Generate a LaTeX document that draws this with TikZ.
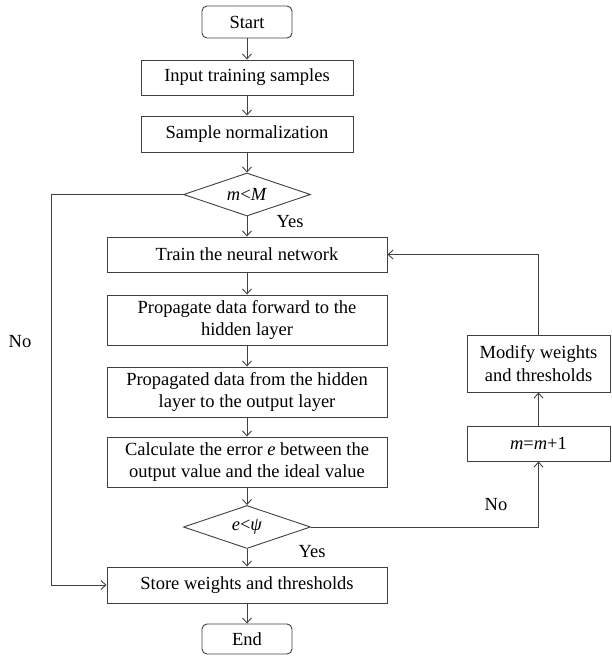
\documentclass[tikz,border=0pt]{standalone}
\usepackage{fontspec}
\setmainfont{Liberation Serif}
\usetikzlibrary{shapes.geometric,arrows.meta,calc}
\tikzset{
  every node/.style={font=\fontsize{18.5}{22.5}\selectfont, text=black},
  box/.style={draw=black!75, line width=0.9pt, rectangle, inner sep=0pt, align=center},
  term/.style={box, rounded corners=5pt, minimum width=90pt},
  dia/.style={draw=black!75, line width=0.9pt, diamond, inner sep=0pt, minimum width=127pt, minimum height=43pt, aspect=2.95},
  conn/.style={draw=black!75, line width=0.9pt, -{Straight Barb[length=5pt,width=9pt]}},
  lbl/.style={inner sep=0pt}
}
\begin{document}
\begin{tikzpicture}[x=1pt,y=-1pt]
\useasboundingbox (0,0) rectangle (611,656);
\node[term, minimum height=32pt] (start) at (247,22) {Start};
\node[box, minimum width=212pt, minimum height=35pt] (input) at (247,77.5) {Input training samples};
\node[box, minimum width=212pt, minimum height=36pt] (norm) at (247,134) {Sample normalization};
\node[dia] (d1) at (247,194.5) {\textit{m}<\textit{M}};
\node[box, minimum width=280pt, minimum height=35pt] (train) at (247,254.5) {Train the neural network};
\node[box, minimum width=280pt, minimum height=50pt] (prop1) at (247,320) {Propagate data forward to the\\hidden layer};
\node[box, minimum width=280pt, minimum height=50pt] (prop2) at (247,392) {Propagated data from the hidden\\layer to the output layer};
\node[box, minimum width=280pt, minimum height=50pt] (calc) at (247,462) {Calculate the error \textit{e} between the\\output value and the ideal value};
\node[dia] (d2) at (247,527) {\textit{e}<\textit{ψ}};
\node[box, minimum width=280pt, minimum height=36pt] (store) at (247,585) {Store weights and thresholds};
\node[term, minimum height=30pt] (end) at (247,639) {End};
\node[box, minimum width=143pt, minimum height=57pt] (modify) at (538.5,363.5) {Modify weights\\and thresholds};
\node[box, minimum width=143pt, minimum height=35pt] (minc) at (538.5,443.5) {\textit{m}=\textit{m}+1};
\coordinate (lx) at (51,0);

\node[lbl] (yes1) at (290,222) {Yes};
\node[lbl] (yes2) at (312,552) {Yes};
\node[lbl] (no1) at (20,342) {No};
\node[lbl] (no2) at (496,505) {No};

\draw[conn] (start) -- (input);
\draw[conn] (input) -- (norm);
\draw[conn] (norm) -- (d1);
\draw[conn] (d1) -- (train);
\draw[conn] (train) -- (prop1);
\draw[conn] (prop1) -- (prop2);
\draw[conn] (prop2) -- (calc);
\draw[conn] (calc) -- (d2);
\draw[conn] (d2) -- (store);
\draw[conn] (store) -- (end);
\draw[conn] (d1.west) -- (d1.west -| lx) |- (store.west);
\draw[conn] (d2.east) -| (minc.south);
\draw[conn] (minc) -- (modify);
\draw[conn] (modify.north) |- (train.east);
\end{tikzpicture}
\end{document}
